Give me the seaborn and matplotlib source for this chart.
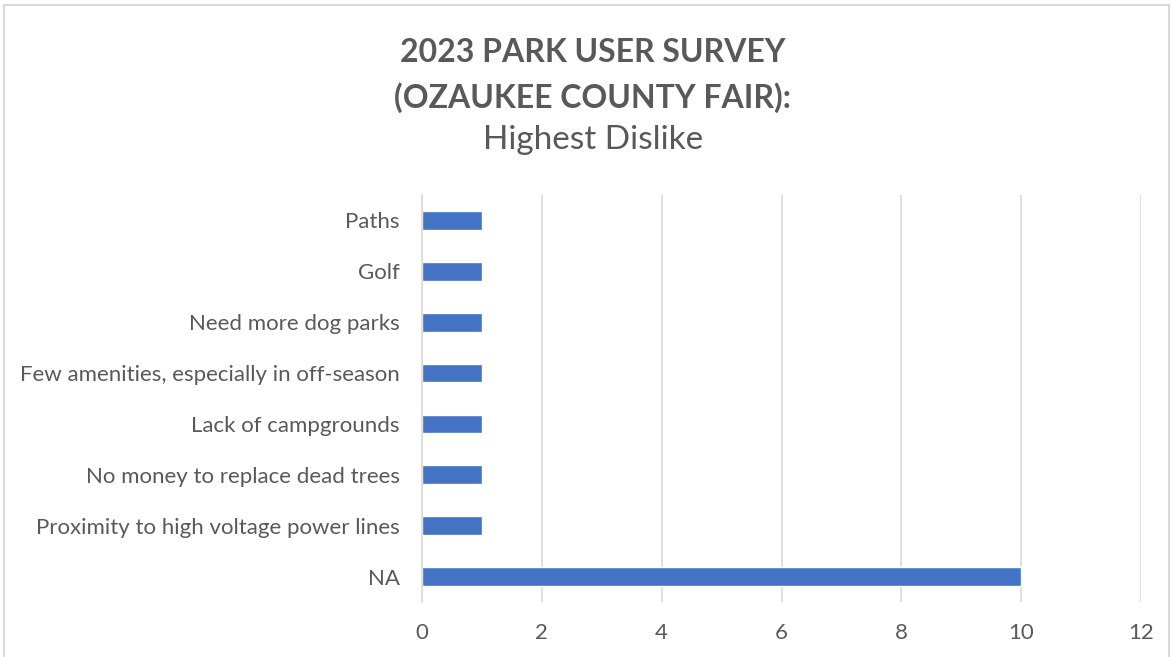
import matplotlib
matplotlib.use('Agg')
import matplotlib.pyplot as plt
import seaborn as sns
import pandas as pd
from matplotlib.patches import Rectangle

# data, top to bottom
dislikes = ['Paths', 'Golf', 'Need more dog parks',
            'Few amenities, especially in off-season', 'Lack of campgrounds',
            'No money to replace dead trees',
            'Proximity to high voltage power lines', 'NA']
counts = [1, 1, 1, 1, 1, 1, 1, 10]
xticks = [0, 2, 4, 6, 8, 10, 12]

df = pd.DataFrame({'Dislike': dislikes, 'Count': counts})

sns.set_style('white')
plt.rcParams['font.family'] = ['Lato', 'DejaVu Sans']

grey = '#595959'
fig = plt.figure(figsize=(11.73, 6.57), dpi=100)
ax = fig.add_axes([422/1173, 55/657, 719/1173, 407/657])

sns.barplot(data=df, x='Count', y='Dislike', order=dislikes, color='#4472C4',
            width=0.37, saturation=1, ax=ax)

ax.set_xlim(0, 12)
ax.set_xticks(xticks)
ax.set_xlabel('')
ax.set_ylabel('')
ax.grid(axis='x', color='#D9D9D9', linewidth=1.2)
ax.set_axisbelow(True)
for s in ['top', 'right', 'bottom']:
    ax.spines[s].set_visible(False)
ax.spines['left'].set_color('#D9D9D9')
ax.spines['left'].set_linewidth(1.2)
ax.tick_params(axis='y', length=0, pad=16, labelsize=16, labelcolor=grey)
ax.tick_params(axis='x', length=0, pad=15, labelsize=16, labelcolor=grey)

# titles
fig.text(593/1173, 1 - 52/657, '2023 PARK USER SURVEY', ha='center', va='center',
         fontsize=23, fontweight='bold', color=grey)
fig.text(593/1173, 1 - 98/657, '(OZAUKEE COUNTY FAIR):', ha='center', va='center',
         fontsize=23, fontweight='bold', color=grey)
fig.text(593/1173, 1 - 140/657, 'Highest Dislike', ha='center', va='center',
         fontsize=24, color=grey)

# chart border
fig.patches.append(Rectangle((4/1173, -0.02), 1165/1173, 0.012 + 1 - 5/657 + 0.008,
                             transform=fig.transFigure, fill=False,
                             edgecolor='#D9D9D9', linewidth=1.5))

fig.savefig('out.png', dpi=100)
